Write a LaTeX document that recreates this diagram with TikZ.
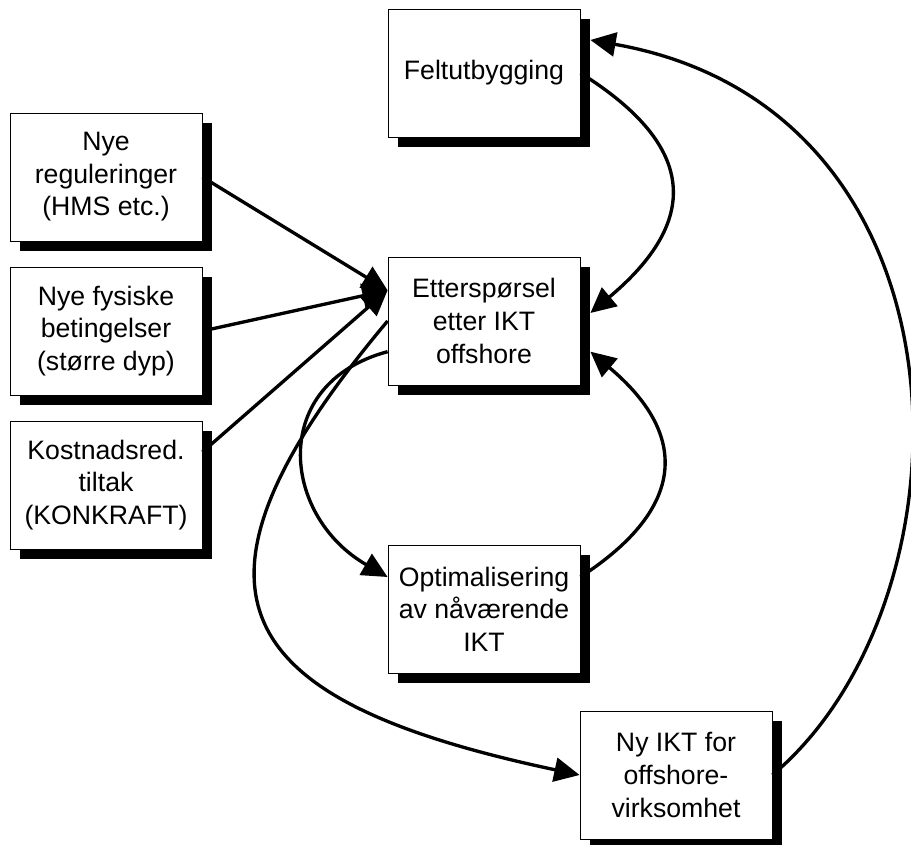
\documentclass[tikz,border=0pt]{standalone}
\usepackage{fontspec}
\setmainfont{Liberation Sans}
\usetikzlibrary{arrows.meta,shadows}

\begin{document}
\begin{tikzpicture}[x=0.75pt, y=-0.75pt,
    boks/.style={rectangle, draw, line width=0.6pt, fill=white,
      minimum width=144pt, minimum height=96pt, align=center, inner sep=2pt,
      font=\fontsize{20}{24.4}\selectfont,
      drop shadow={shadow xshift=7.5pt, shadow yshift=-7.5pt, fill=black, opacity=1}},
    pil/.style={line width=2.5pt, -{Triangle[length=19pt,width=18pt]}}]

   \useasboundingbox (0,0) rectangle (911,845);

   \foreach \x/\y/\n/\t in {484/73/felt/Feltutbygging,
                            106/177/regul/Nye\\reguleringer\\(HMS etc.),
                            106/331/fysisk/Nye fysiske\\betingelser\\(større dyp),
                            106/485/kost/Kostnadsred.\\tiltak\\(KONKRAFT),
                            484/321/ettersp/Etterspørsel\\etter IKT\\offshore,
                            484/609/optim/Optimalisering\\av nåværende\\IKT,
                            676/775/nyikt/Ny IKT for\\offshore-\\virksomhet}
     \node [boks] (\n) at (\x,\y) {\t};

   % drivere inn mot etterspørselen
   \foreach \i/\s in {regul/0pt, fysisk/0pt, kost/24.75pt}
     \draw [pil] ([yshift=\s]\i.east) -- ([yshift=23pt]ettersp.west);

   \draw [pil] (felt.east) to[out=-32, in=40, looseness=1.5] ([xshift=7.5pt, yshift=6pt]ettersp.east);
   \draw [pil] ([yshift=24pt]optim.east) to[out=33, in=-40, looseness=1.45] ([xshift=7.5pt, yshift=-23pt]ettersp.east);
   \draw [pil] ([yshift=-23pt]ettersp.west) to[out=195, in=150, looseness=1.4] ([yshift=24pt]optim.west);
   \draw [pil] (ettersp.west) to[out=230, in=168, looseness=1.85] (nyikt.west);
   \draw [pil] (nyikt.east) to[out=40, in=-10, out looseness=0.91, in looseness=1.35] ([xshift=7.5pt, yshift=24.75pt]felt.east);

\end{tikzpicture}
\end{document}
